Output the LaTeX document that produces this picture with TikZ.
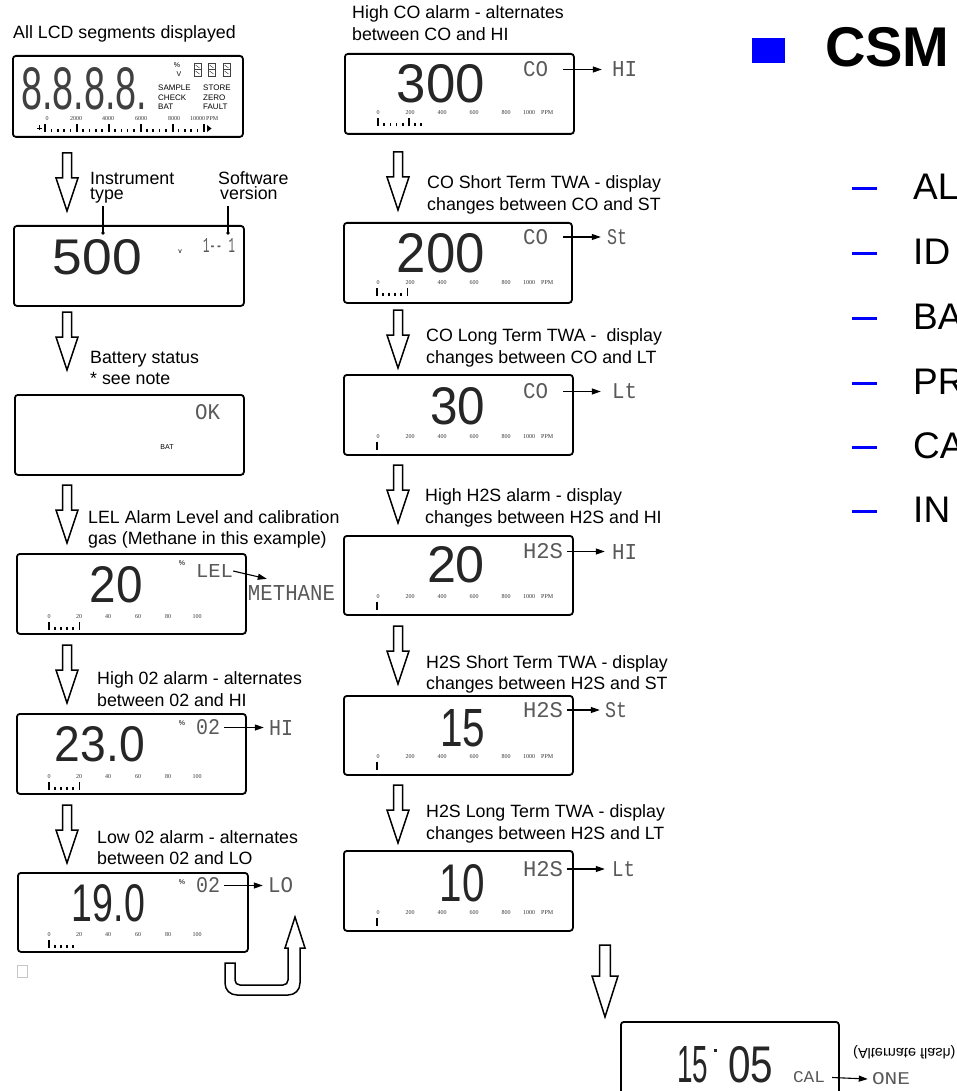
\documentclass[tikz,border=0pt]{standalone}
\usepackage{fontspec}
\usepackage{graphicx}
\setmainfont{Liberation Sans}
\newfontfamily\lcdbigfont{Liberation Sans}
\newfontfamily\lcdsmfont{Liberation Mono}
\newfontfamily\tinyserif{Liberation Serif}
\usetikzlibrary{arrows.meta}

\newcommand\BigLCD[3]{\resizebox{#1pt}{#2pt}{\lcdbigfont #3}}
\newcommand\SmLCD[3]{\resizebox{#1pt}{#2pt}{\lcdsmfont #3}}

\tikzset{
 captxt/.style={anchor=base west, inner sep=0pt, font=\fontsize{17.8}{21}\selectfont},
 lcdbox/.style={draw, line width=1.8pt, rounded corners=3pt, inner sep=0pt, anchor=north west},
 bignum/.style={inner sep=0pt, text=black!85},
 smlcd/.style={inner sep=0pt, text=black!65},
 tinylab/.style={inner sep=0pt, font=\tinyserif\fontsize{6}{6}\selectfont, text=black!80},
 minilab/.style={inner sep=0pt, anchor=west, font=\fontsize{8}{8}\selectfont},
 pctlab/.style={inner sep=0pt, font=\fontsize{7}{7}\selectfont},
 tickline/.style={line width=1.6pt},
 lcdarrow/.style={line width=1.1pt, -{Triangle[length=9pt,width=6pt]}},
 blockdown/.pic={\draw[line width=1.5pt, fill=white, line join=miter]
   (-4.5,0) -- (4.5,0) -- (4.5,25) -- (11,25) -- (0,58) -- (-11,25) -- (-4.5,25) -- cycle;},
}

\newcommand\RScale[2]{%
 \foreach \lx/\lt in {378/0,410/200,442/400,474/600,506/800}
   {\node[tinylab] (#2-\lt) at (\lx,#1) {\lt};}
 \node[tinylab, anchor=west] (#2-ppm) at (523,#1) {1000\hspace{6pt}PPM};}
\newcommand\PScale[2]{%
 \foreach \lx/\lt in {49/0,79/20,108/40,138/60,168/80,197/100}
   {\node[tinylab] (#2-\lt) at (\lx,#1) {\lt};}}
\newcommand\BigTick[2]{\draw[tickline] (#1,#2) -- ++(0,-8);}
\newcommand\SmTick[2]{\draw[tickline] (#1,#2) -- ++(0,-3);}

\begin{document}
\begin{tikzpicture}[x=1pt,y=-1pt]
\useasboundingbox (0,0) rectangle (956,1091);
\clip (0,0) rectangle (956,1091);

% ---------------- left column ----------------
\node[captxt] (t1) at (13,39) {All LCD segments displayed};

% box 1
\node[lcdbox, minimum width=230pt, minimum height=81pt] (b1) at (12,55) {};
\node[bignum, text=black!75] (n1) at (84,89) {\BigLCD{126}{42}{8.8.8.8.}};
\node[pctlab] (b1pc) at (177,65) {\%};
\node[pctlab] (b1v) at (179,74) {V};
\foreach \ix in {194,208,223} {
  \draw[line width=0.8pt, black!75] (\ix,63) rectangle (\ix+7,76);
  \draw[line width=0.8pt, black!75] (\ix,69.5) -- (\ix+7,69.5);
  \draw[line width=0.5pt, black!75] (\ix+1.5,65) -- (\ix+5.5,68) (\ix+1.5,71) -- (\ix+5.5,74);
}
\node[minilab] (s1) at (158,88) {SAMPLE};
\node[minilab] (s2) at (158,98) {CHECK};
\node[minilab] (s3) at (158,107) {BAT};
\node[minilab] (s4) at (203,88) {STORE};
\node[minilab] (s5) at (203,98) {ZERO};
\node[minilab] (s6) at (203,107) {FAULT};
\foreach \lx/\lt in {47/0,76/2000,108/4000,141/6000,174/8000}
  {\node[tinylab] (b1s-\lt) at (\lx,119) {\lt};}
\node[tinylab, anchor=west] (b1s-ppm) at (190,119) {10000\hspace{1pt}PPM};
\draw[line width=0.8pt] (37,128) -- (42,128) (39.5,125.5) -- (39.5,130.5);
\foreach \tx in {45,77,109,141,173,204} {\BigTick{\tx}{132}}
\foreach \k in {0,...,4} {\foreach \j in {1,...,4} {\SmTick{45+31.8*\k+6.36*\j}{132}}}
\fill (207,125) -- (211.5,128.5) -- (207,132) -- cycle;

\pic at (67,153) {blockdown};
\node[captxt] (t2a) at (90,185) {Instrument};
\node[captxt] (t2b) at (90,200) {type};
\node[captxt] (t3a) at (218,185) {Software};
\node[captxt] (t3b) at (220,200) {version};
\coordinate (d1) at (103,233);
\coordinate (d2) at (228,233);
\draw[line width=1.2pt] (103,206) -- (d1);
\draw[line width=1.2pt] (228,206) -- (d2);
\fill (d1) circle (1.9pt);
\fill (d2) circle (1.9pt);

% box 2
\node[lcdbox, minimum width=230pt, minimum height=80pt] (b2) at (13,225) {};
\node[bignum] (n2) at (97.5,257.5) {\BigLCD{89}{35}{500}};
\node[pctlab] (b2v) at (180,252) {v};
\node[smlcd] (l2) at (219,245) {\SmLCD{32}{14}{1-- 1}};

\pic at (67,312) {blockdown};
\node[captxt] (t4a) at (90,363) {Battery status};
\node[captxt] (t4b) at (90,384) {* see note};

% box 3
\node[lcdbox, minimum width=229pt, minimum height=80pt] (b3) at (14,394) {};
\node[smlcd] (l3) at (207.5,412.5) {\SmLCD{25}{15}{OK}};
\node[pctlab] (b3bat) at (167,447) {BAT};

\pic at (67,485) {blockdown};
\node[captxt] (t5a) at (88,523) {LEL Alarm Level and calibration};
\node[captxt] (t5b) at (88,544) {gas (Methane in this example)};

% box 4
\node[lcdbox, minimum width=229pt, minimum height=80pt] (b4) at (16,553) {};
\node[bignum] (n4) at (116.5,585) {\BigLCD{53}{36}{20}};
\node[pctlab] (b4pc) at (182,563) {\%};
\node[smlcd] (l4a) at (214.5,571) {\SmLCD{37}{13}{LEL}};
\node[smlcd] (l4b) at (291.5,592.5) {\SmLCD{87}{15}{METHANE}};
\draw[lcdarrow] (l4a.east) -- ([xshift=19pt,yshift=6pt]l4b.north west);
\PScale{617}{b4s}
\BigTick{49}{630} \BigTick{79.5}{630}
\foreach \tx in {55,61,67,73} {\SmTick{\tx}{630}}

\pic at (67,645) {blockdown};
\node[captxt] (t6a) at (97,684) {High 02 alarm - alternates};
\node[captxt] (t6b) at (97,706) {between 02 and HI};

% box 5
\node[lcdbox, minimum width=229pt, minimum height=80pt] (b5) at (16,713) {};
\node[bignum] (n5) at (100,744.5) {\BigLCD{90}{35}{23.0}};
\node[pctlab] (b5pc) at (182,723) {\%};
\node[smlcd] (l5a) at (208,727.5) {\SmLCD{24}{15}{02}};
\node[smlcd] (l5b) at (281,727.5) {\SmLCD{24}{15}{HI}};
\draw[lcdarrow] ([xshift=4pt]l5a.east) -- ([xshift=-5pt]l5b.west);
\PScale{777}{b5s}
\BigTick{49}{790} \BigTick{79.5}{790}
\foreach \tx in {55,61,67,73} {\SmTick{\tx}{790}}

\pic at (67,805) {blockdown};
\node[captxt] (t7a) at (97,843) {Low 02 alarm - alternates};
\node[captxt] (t7b) at (97,864) {between 02 and LO};

% box 6
\node[lcdbox, minimum width=230pt, minimum height=79pt] (b6) at (17,872) {};
\node[bignum] (n6) at (108.5,903.5) {\BigLCD{73}{37}{19.0}};
\node[pctlab] (b6pc) at (182,882) {\%};
\node[smlcd] (l6a) at (208,885.5) {\SmLCD{24}{15}{02}};
\node[smlcd] (l6b) at (280.5,885.5) {\SmLCD{25}{15}{LO}};
\draw[lcdarrow] ([xshift=4pt]l6a.east) -- ([xshift=-5pt]l6b.west);
\PScale{935}{b6s}
\BigTick{49}{948}
\foreach \tx in {55,61,67,73} {\SmTick{\tx}{948}}

% U-turn hollow arrow
\draw[line width=1.5pt, fill=white, line join=miter]
  (225,963) -- (225,983) .. controls (225,990) and (230,995) .. (237,995)
  -- (288,995) .. controls (295,995) and (300,990) .. (300,983)
  -- (300,948) -- (305,948) -- (295,917) -- (285,948) -- (288,948)
  -- (288,980) .. controls (288,983) and (286,985) .. (283,985)
  -- (240,985) .. controls (237,985) and (235,983) .. (235,980)
  -- (235,963) -- cycle;

\draw[gray!45, line width=0.6pt] (17,965) rectangle (27,977);

% ---------------- right column ----------------
\node[captxt] (u1a) at (352,19) {High CO alarm - alternates};
\node[captxt] (u1b) at (352,41) {between CO and HI};

\node[lcdbox, minimum width=229pt, minimum height=80pt] (r1) at (344,53) {};
\node[bignum] (m1) at (441,84) {\BigLCD{88}{38}{300}};
\node[smlcd] (r1a) at (535.5,69.5) {\SmLCD{25}{15}{CO}};
\node[smlcd] (r1b) at (624.5,69.5) {\SmLCD{25}{15}{HI}};
\draw[lcdarrow] ([xshift=15pt]r1a.east) -- ([xshift=-10pt]r1b.west);
\RScale{113}{r1s}
\BigTick{378}{126} \BigTick{409}{126}
\foreach \tx in {384.2,390.4,396.6,402.8,415,421} {\SmTick{\tx}{126}}

\pic at (398,152) {blockdown};
\node[captxt] (u2a) at (427,189) {CO Short Term TWA - display};
\node[captxt] (u2b) at (427,211) {changes between CO and ST};

\node[lcdbox, minimum width=228pt, minimum height=80pt] (r2) at (343,222) {};
\node[bignum] (m2) at (441,253.5) {\BigLCD{88}{39}{200}};
\node[smlcd] (r2a) at (535.5,237) {\SmLCD{25}{15}{CO}};
\node[smlcd] (r2b) at (617,237) {\SmLCD{20}{15}{St}};
\draw[lcdarrow] ([xshift=15pt]r2a.east) -- ([xshift=-6pt]r2b.west);
\RScale{283}{r2s}
\BigTick{377}{296} \BigTick{407.5}{296}
\foreach \tx in {383,389,395,401} {\SmTick{\tx}{296}}

\pic at (398,310) {blockdown};
\node[captxt] (u3a) at (426,341) {CO Long Term TWA -\ \ display};
\node[captxt] (u3b) at (426,363) {changes between CO and LT};

\node[lcdbox, minimum width=229pt, minimum height=80pt] (r3) at (343,374) {};
\node[bignum] (m3) at (457.5,406.5) {\BigLCD{55}{37}{30}};
\node[smlcd] (r3a) at (535.5,391.5) {\SmLCD{25}{15}{CO}};
\node[smlcd] (r3b) at (624.5,391.5) {\SmLCD{25}{15}{Lt}};
\draw[lcdarrow] ([xshift=15pt]r3a.east) -- ([xshift=-11pt]r3b.west);
\RScale{437}{r3s}
\BigTick{377}{450}

\pic at (398,465) {blockdown};
\node[captxt] (u4a) at (425,501) {High H2S alarm - display};
\node[captxt] (u4b) at (425,523) {changes between H2S and HI};

\node[lcdbox, minimum width=229pt, minimum height=79pt] (r4) at (343,535) {};
\node[bignum] (m4) at (456,565) {\BigLCD{58}{36}{20}};
\node[smlcd] (r4a) at (543,551.5) {\SmLCD{40}{15}{H2S}};
\node[smlcd] (r4b) at (624.5,551.5) {\SmLCD{25}{15}{HI}};
\draw[lcdarrow] ([xshift=4pt]r4a.east) -- ([xshift=-7pt]r4b.west);
\RScale{597}{r4s}
\BigTick{377}{610}

\pic at (398,626) {blockdown};
\node[captxt] (u5a) at (426,668) {H2S Short Term TWA - display};
\node[captxt] (u5b) at (426,689) {changes between H2S and ST};

\node[lcdbox, minimum width=229pt, minimum height=79pt] (r5) at (343,695) {};
\node[bignum] (m5) at (462.5,728.5) {\BigLCD{45}{37}{15}};
\node[smlcd] (r5a) at (543,710) {\SmLCD{40}{15}{H2S}};
\node[smlcd] (r5b) at (616,710) {\SmLCD{22}{15}{St}};
\draw[lcdarrow] ([xshift=4pt]r5a.east) -- ([xshift=-5pt]r5b.west);
\RScale{757}{r5s}
\BigTick{377}{770}

\pic at (398,785) {blockdown};
\node[captxt] (u6a) at (426,817) {H2S Long Term TWA - display};
\node[captxt] (u6b) at (426,839) {changes between H2S and LT};

\node[lcdbox, minimum width=229pt, minimum height=80pt] (r6) at (343,850) {};
\node[bignum] (m6) at (462,883.5) {\BigLCD{45}{37}{10}};
\node[smlcd] (r6a) at (543,869) {\SmLCD{40}{15}{H2S}};
\node[smlcd] (r6b) at (623.5,869) {\SmLCD{23}{15}{Lt}};
\draw[lcdarrow] ([xshift=4pt]r6a.east) -- ([xshift=-7pt]r6b.west);
\RScale{913}{r6s}
\BigTick{377}{926}

% bottom arrow and box
\pic[xscale=1.18, yscale=1.24] at (605,945) {blockdown};
\node[lcdbox, minimum width=218pt, minimum height=100pt] (bb) at (620,1021) {};
\node[bignum] (q1) at (692.5,1065) {\BigLCD{31}{36}{15}};
\node[bignum] (q2) at (750.5,1065) {\BigLCD{45}{36}{05}};
\fill[black!85] (713.5,1048.5) rectangle (716.5,1051.5);
\node[smlcd] (ba) at (809,1077.5) {\SmLCD{32}{11}{CAL}};
\node[smlcd] (bo) at (891,1079) {\SmLCD{38}{12}{ONE}};
\draw[lcdarrow] ([xshift=7pt]ba.east) -- ([xshift=-4pt]bo.west);
\node[inner sep=0pt, anchor=west, font=\fontsize{14.5}{15}\selectfont] (alt) at (853,1052)
  {\scalebox{1}[-1]{(Alternate flash)}};

% ---------------- right text panel ----------------
\fill[blue] (752,38) rectangle (785,63);
\node[anchor=base west, inner sep=0pt, font=\bfseries\fontsize{56}{60}\selectfont] (csm) at (825,67) {CSM};
\foreach \by/\bt [count=\bi] in {189/AL,253/ID,318/BA,383/PR,447/CA,511/IN} {
  \draw[blue, line width=3pt] (852,\by) -- (877,\by);
  \node[anchor=base west, inner sep=0pt, font=\fontsize{37}{40}\selectfont] (bl\bi) at (913,\by+11) {\bt};
}
\end{tikzpicture}
\end{document}
